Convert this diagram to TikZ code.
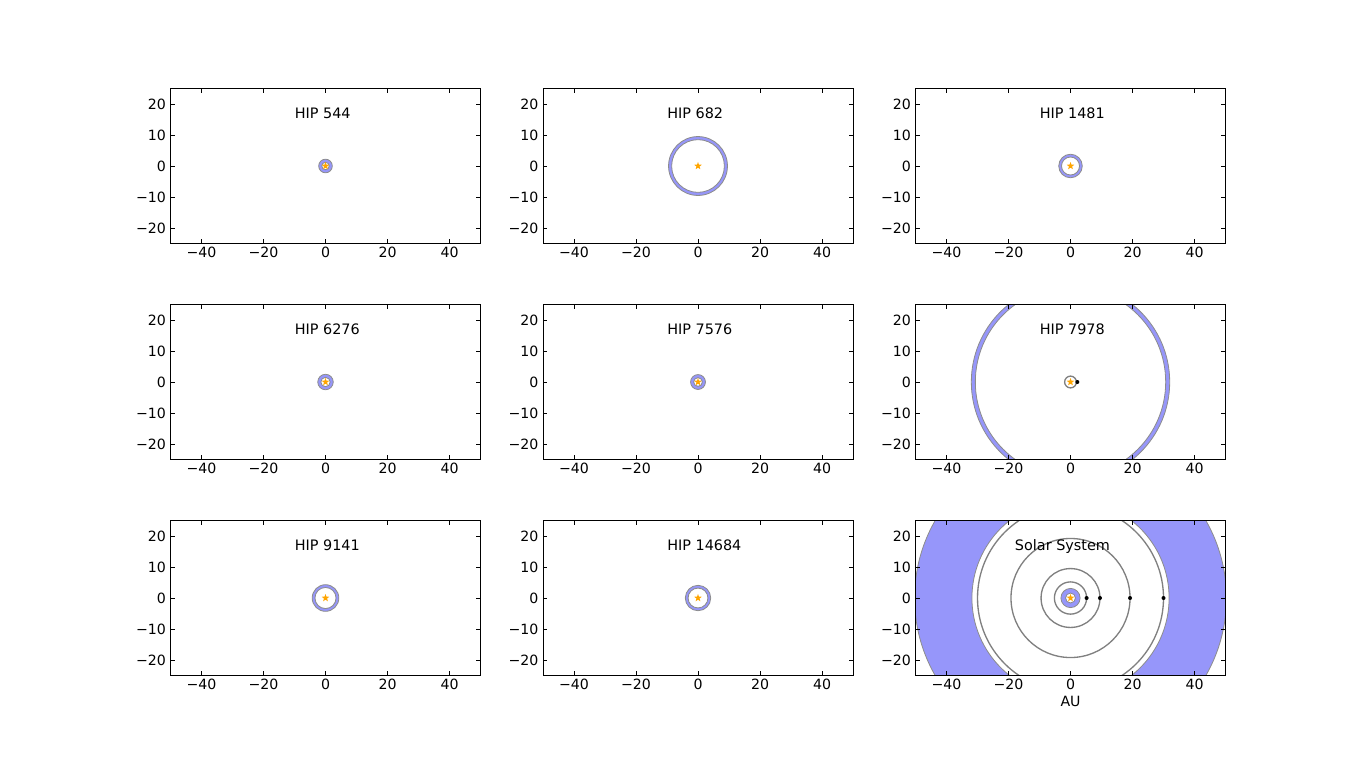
\documentclass[tikz,border=0pt]{standalone}
\usepackage{fontspec}
\setmainfont{DejaVu Sans}
\usetikzlibrary{shapes.geometric}
\definecolor{ringblue}{RGB}{150,150,250}
\definecolor{starorange}{RGB}{255,165,0}
\tikzset{
  ring/.style={fill=ringblue, even odd rule, draw=black!45, line width=0.6pt},
  orbit/.style={draw=black!50, line width=1pt},
  frame/.style={draw=black, line width=0.75pt},
  tickmark/.style={draw=black, line width=0.6pt},
  ticklab/.style={font=\fontsize{10.6}{12}\selectfont, inner sep=0pt},
  paneltitle/.style={font=\fontsize{10.8}{12}\selectfont, inner sep=0pt, anchor=base west},
  starmark/.style={star, star points=5, star point ratio=2.4, fill=starorange, draw=none, inner sep=0pt, minimum size=6pt},
  planet/.style={circle, fill=black, draw=none, inner sep=0pt, minimum size=3pt},
}
% body of a panel, in data units, clipped
\newcommand\panelbody[3]{%
  \begin{scope}[shift={(#1,#2)},x=2.325pt,y=2.325pt]
    \clip (-50,-25) rectangle (50,25);
    #3
  \end{scope}}
% axes, ticks, labels, title and star
\newcommand\panelaxes[5]{%
  \begin{scope}[shift={(#2,#3)},x=2.325pt,y=2.325pt]
    \foreach \v/\t in {-40/−40,-20/−20,0/0,20/20,40/40}{
      \draw[tickmark] (\v,-25) -- (\v,-23.7);
      \draw[tickmark] (\v,25) -- (\v,23.7);
      \node[ticklab,anchor=north] (#1-x\v) at (\v,-26.0) {\t};
    }
    \foreach \v/\t in {-20/−20,-10/−10,0/0,10/10,20/20}{
      \draw[tickmark] (-50,\v) -- (-48.7,\v);
      \draw[tickmark] (50,\v) -- (48.7,\v);
      \node[ticklab,anchor=east] (#1-y\v) at (-51.4,\v) {\t};
    }
    \draw[frame] (-50,-25) rectangle (50,25);
    \node[starmark] (#1-star) at (0,0) {};
    \node[paneltitle] (#1-title) at (#5,15.2) {#4};
  \end{scope}}
\begin{document}
\begin{tikzpicture}[x=0.75pt,y=-0.75pt]
\useasboundingbox (0,0) rectangle (1362,765);

% row 1
\panelbody{325.5}{166}{\path[ring] (0,0) circle[radius=2.2] (0,0) circle[radius=1.2];}
\panelaxes{p1}{325.5}{166}{HIP 544}{-10}

\panelbody{698}{166}{\path[ring] (0,0) circle[radius=9.5] (0,0) circle[radius=8.5];}
\panelaxes{p2}{698}{166}{HIP 682}{-10}

\panelbody{1070.5}{166}{\path[ring] (0,0) circle[radius=3.8] (0,0) circle[radius=2.9];}
\panelaxes{p3}{1070.5}{166}{HIP 1481}{-10}

% row 2
\panelbody{325.5}{382}{\path[ring] (0,0) circle[radius=2.5] (0,0) circle[radius=1.5];}
\panelaxes{p4}{325.5}{382}{HIP 6276}{-10}

\panelbody{698}{382}{\path[ring] (0,0) circle[radius=2.4] (0,0) circle[radius=1.4];}
\panelaxes{p5}{698}{382}{HIP 7576}{-10}

\panelbody{1070.5}{382}{%
  \path[ring] (0,0) circle[radius=32] (0,0) circle[radius=30.7];
  \draw[orbit] (0,0) circle[radius=1.9];
  \node[planet] (p6-b) at (2.2,0) {};}
\panelaxes{p6}{1070.5}{382}{HIP 7978}{-10}

% row 3
\panelbody{325.5}{598}{\path[ring] (0,0) circle[radius=4.3] (0,0) circle[radius=3.4];}
\panelaxes{p7}{325.5}{598}{HIP 9141}{-10}

\panelbody{698}{598}{\path[ring] (0,0) circle[radius=4.1] (0,0) circle[radius=3.2];}
\panelaxes{p8}{698}{598}{HIP 14684}{-10}

\panelbody{1070.5}{598}{%
  \path[ring] (0,0) circle[radius=50.3] (0,0) circle[radius=31.8];
  \path[ring] (0,0) circle[radius=3.1] (0,0) circle[radius=1.6];
  \foreach \r/\n in {5.2/ju,9.5/sa,19.2/ur,30.0/ne}{
    \draw[orbit] (0,0) circle[radius=\r];
    \node[planet] (p9-\n) at (\r,0) {};
  }}
\panelaxes{p9}{1070.5}{598}{Solar System}{-18}

\node[ticklab,anchor=north] (au) at (1070.5,696) {AU};
\end{tikzpicture}
\end{document}
